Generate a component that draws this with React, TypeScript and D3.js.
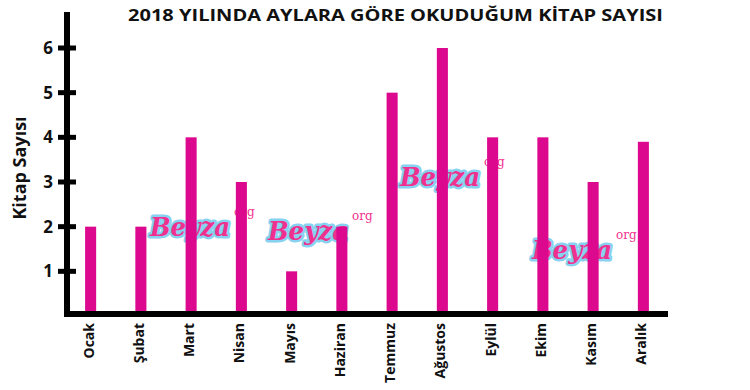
import React, { useRef, useEffect } from 'react';
import * as d3 from 'd3';

// data
const MONTHS = ['Ocak', 'Şubat', 'Mart', 'Nisan', 'Mayıs', 'Haziran', 'Temmuz', 'Ağustos', 'Eylül', 'Ekim', 'Kasım', 'Aralık'];
const BOOKS = [2, 2, 4, 3, 1, 2, 5, 6, 4, 4, 3, 3.9];
const Y_TICKS = [1, 2, 3, 4, 5, 6];
const TITLE = '2018 YILINDA AYLARA GÖRE OKUDUĞUM KİTAP SAYISI';
const Y_LABEL = 'Kitap Sayısı';

// the "Beyza.org" watermarks stamped over the picture
const WATERMARKS = [
	{ x: 150, y: 236 },
	{ x: 268, y: 240 },
	{ x: 400, y: 186 },
	{ x: 532, y: 259 },
];

const W = 750;
const H = 390;
const FONT = "'Open Sans', 'DejaVu Sans', sans-serif";
const PINK = '#dc088e';

const App: React.FC = () => {
	const svgRef = useRef<SVGSVGElement | null>(null);

	useEffect(() => {
		if (!svgRef.current) return;
		const svg = d3.select(svgRef.current);
		svg.selectAll('*').remove();

		const x = d3.scaleBand<string>()
			.domain(MONTHS)
			.range([65, 669])
			.paddingInner(0.78)
			.paddingOuter(0.4);

		const y = d3.scaleLinear()
			.domain([0, 6])
			.range([316, 48]);

		// title
		svg.append('text')
			.attr('x', 128)
			.attr('y', 21)
			.attr('textLength', 535)
			.attr('lengthAdjust', 'spacingAndGlyphs')
			.attr('font-family', FONT)
			.attr('font-weight', 700)
			.attr('font-size', 16.5)
			.attr('fill', '#111')
			.text(TITLE);

		// watermarks (behind the bars)
		const wm = svg.append('g')
			.selectAll('g')
			.data(WATERMARKS)
			.join('g')
			.attr('transform', d => `translate(${d.x},${d.y})`);
		const word = wm.append('text')
			.attr('font-family', "'DejaVu Serif', serif")
			.attr('font-style', 'italic')
			.attr('font-weight', 700)
			.attr('font-size', 26)
			.attr('textLength', 80)
			.attr('lengthAdjust', 'spacingAndGlyphs')
			.attr('fill', '#f0308e')
			.attr('stroke', '#86d2f0')
			.attr('stroke-width', 5)
			.attr('stroke-linejoin', 'round')
			.attr('paint-order', 'stroke')
			.text('Beyza');
		wm.append('text')
			.attr('x', 84)
			.attr('y', -20)
			.attr('font-family', "'DejaVu Serif', serif")
			.attr('font-size', 12)
			.attr('fill', '#f0308e')
			.text('org');
		void word;

		// bars
		svg.append('g')
			.selectAll('rect')
			.data(MONTHS)
			.join('rect')
			.attr('x', d => x(d)!)
			.attr('width', x.bandwidth())
			.attr('y', (d, i) => y(BOOKS[i]))
			.attr('height', (d, i) => y(0) - y(BOOKS[i]))
			.attr('fill', PINK);

		// axes
		svg.append('rect')
			.attr('x', 64).attr('y', 12)
			.attr('width', 6).attr('height', y(0) - 12 + 1)
			.attr('fill', '#000');
		svg.append('rect')
			.attr('x', 64).attr('y', y(0) - 5)
			.attr('width', 668 - 64).attr('height', 6)
			.attr('fill', '#000');

		const ticks = svg.append('g')
			.selectAll('g')
			.data(Y_TICKS)
			.join('g')
			.attr('transform', d => `translate(0,${y(d)})`);
		ticks.append('line')
			.attr('x1', 58).attr('x2', 76)
			.attr('stroke', '#000')
			.attr('stroke-width', 5);
		ticks.append('text')
			.attr('x', 53)
			.attr('dy', '0.36em')
			.attr('text-anchor', 'end')
			.attr('font-family', FONT)
			.attr('font-weight', 700)
			.attr('font-size', 17)
			.attr('fill', '#111')
			.text(d => String(d));

		// month labels, rotated
		svg.append('g')
			.selectAll('text')
			.data(MONTHS)
			.join('text')
			.attr('transform', d => `translate(${x(d)! + x.bandwidth() / 2 + 3},323) rotate(-90)`)
			.attr('text-anchor', 'end')
			.attr('font-family', FONT)
			.attr('font-weight', 700)
			.attr('font-size', 14)
			.attr('fill', '#111')
			.text(d => d);

		// y axis title
		svg.append('text')
			.attr('transform', 'translate(26,168) rotate(-90)')
			.attr('text-anchor', 'middle')
			.attr('font-family', FONT)
			.attr('font-weight', 700)
			.attr('font-size', 18)
			.attr('fill', '#111')
			.text(Y_LABEL);
	}, []);

	return (
		<svg
			ref={svgRef}
			width={W}
			height={H}
			style={{ position: 'absolute', left: 0, top: 0, background: '#fff' }}
		/>
	);
};

export default App;
